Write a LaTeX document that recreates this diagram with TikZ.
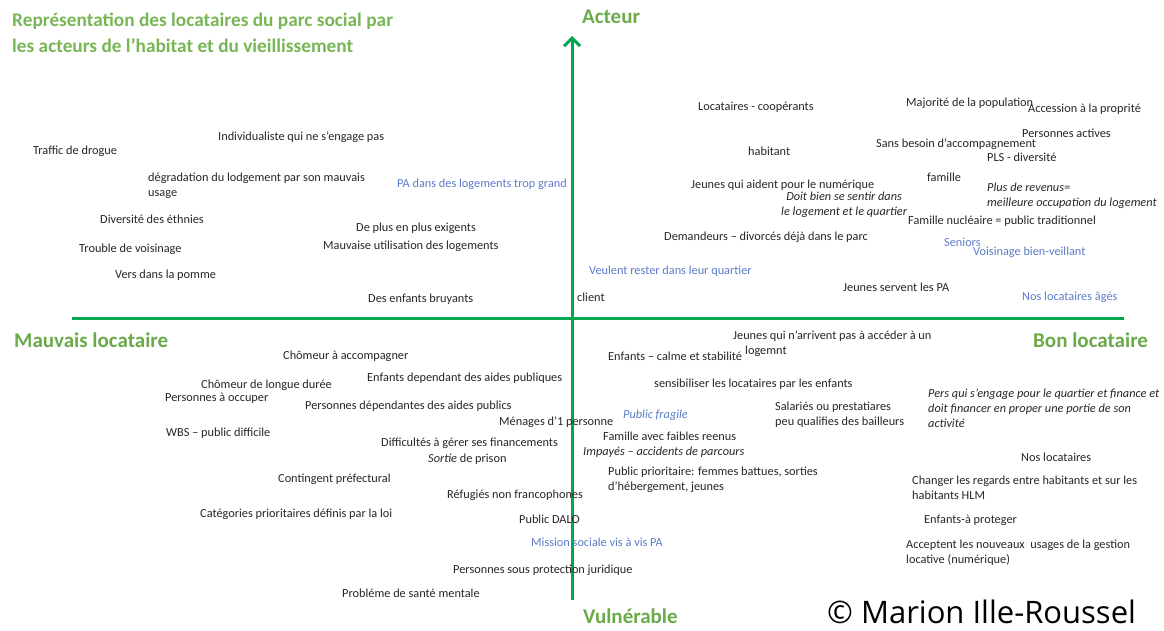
\documentclass[tikz,border=0pt]{standalone}
\usepackage{fontspec}
\setmainfont{Carlito}
\newfontfamily\copyfont{Open Sans}
\usetikzlibrary{arrows.meta}
\definecolor{ink}{HTML}{262626}
\definecolor{paleblue}{HTML}{5B7BC8}
\definecolor{labelgreen}{HTML}{6AAA4A}
\definecolor{titlegreen}{HTML}{78B655}
\definecolor{axisgreen}{HTML}{00A650}

\begin{document}
\begin{tikzpicture}[x=1pt,y=-1pt,
  t/.style={anchor=west,inner sep=0pt,text=ink,align=left,font=\fontsize{12.3}{15}\selectfont},
  pa/.style={t,text=paleblue},
  ax/.style={anchor=west,inner sep=0pt,text=labelgreen,font=\fontsize{21}{25}\selectfont\bfseries},
  hd/.style={anchor=west,inner sep=0pt,align=left,text=titlegreen,font=\fontsize{19.3}{26}\selectfont\bfseries},
  axis/.style={draw=axisgreen,line width=3pt}
]
\useasboundingbox (0,0) rectangle (1164,630);
% axes
\coordinate (top) at (572,36);
\coordinate (bot) at (572,600);
\coordinate (lft) at (72,318);
\coordinate (rgt) at (1124,318);
\draw[axis] (lft) -- (rgt);
\draw[axis,-{Straight Barb[length=8pt,width=16pt]}] (bot) -- (top);
% titles and axis labels
\node[hd] (title) at (12,33) {Représentation des locataires du parc social par\\les acteurs de l’habitat et du vieillissement};
\node[ax] (acteur) at (582,17) {Acteur};
\node[ax] (mauvais) at (14,340) {Mauvais locataire};
\node[ax] (bon) at (1033,340) {Bon locataire};
\node[ax] (vuln) at (583,616) {Vulnérable};
\node[anchor=west,inner sep=0pt,text=black,font=\copyfont\fontsize{31}{35}\selectfont] (copy) at (827,612) {© Marion Ille-Roussel};
% mauvais locataire / acteur
\node[t] (individ) at (218,137) {Individualiste qui ne s’engage pas};
\node[t] (drogue) at (33,151) {Traffic de drogue};
\node[t] (degrad) at (148,186) {dégradation du lodgement par son mauvais\\usage};
\node[pa] (grand) at (397,184) {PA dans des logements trop grand};
\node[t] (ethnies) at (100,219) {Diversité des éthnies};
\node[t] (exigents) at (356,228) {De plus en plus exigents};
\node[t] (voisin) at (79,249) {Trouble de voisinage};
\node[t] (utilis) at (323,246) {Mauvaise utilisation des logements};
\node[t] (pomme) at (115,275) {Vers dans la pomme};
\node[t] (bruyants) at (368,299) {Des enfants bruyants};
% bon locataire / acteur
\node[t] (client) at (577,297) {client};
\node[pa] (rester) at (589,271) {Veulent rester dans leur quartier};
\node[t] (divorces) at (664,237) {Demandeurs – divorcés déjà dans le parc};
\node[t] (numer) at (691,185) {Jeunes qui aident pour le numérique};
\node[t,align=center,font=\fontsize{12.3}{15}\selectfont\itshape] (sentir) at (781,205) {Doit bien se sentir dans\\le logement et le quartier};
\node[t] (coop) at (698,107) {Locataires - coopérants};
\node[t] (habitant) at (748,151) {habitant};
\node[t] (majorite) at (906,103) {Majorité de la population};
\node[t] (propr) at (1028,109) {Accession à la proprité};
\node[t] (actives) at (1022,133) {Personnes actives};
\node[t] (besoin) at (876,144) {Sans besoin d’accompagnement};
\node[t] (pls) at (987,157) {PLS - diversité};
\node[t] (famille) at (927,177) {famille};
\node[t,font=\fontsize{12.3}{15}\selectfont\itshape] (revenus) at (987,196) {Plus de revenus=\\meilleure occupation du logement};
\node[t] (nucleaire) at (908,221) {Famille nucléaire = public traditionnel};
\node[pa] (seniors) at (944,242) {Seniors};
\node[pa] (veillant) at (973,252) {Voisinage bien-veillant};
\node[t] (servent) at (843,287) {Jeunes servent les PA};
\node[pa] (ages) at (1022,297) {Nos locataires âgés};
% mauvais locataire / vulnerable
\node[t] (accomp) at (283,356) {Chômeur à accompagner};
\node[t] (longue) at (201,385) {Chômeur de longue durée};
\node[t] (occuper) at (165,398) {Personnes à occuper};
\node[t] (aidesenf) at (367,378) {Enfants dependant des aides publiques};
\node[t] (aidespers) at (305,406) {Personnes dépendantes des aides publics};
\node[t] (wbs) at (166,433) {WBS – public difficile};
\node[t] (menages) at (499,422) {Ménages d’1 personne};
\node[t] (financ) at (381,443) {Difficultés à gérer ses financements};
\node[t] (prison) at (428,459) {\textit{Sortie} de prison};
\node[t] (contingent) at (278,479) {Contingent préfectural};
\node[t] (refugies) at (447,495) {Réfugiés non francophones};
\node[t] (categ) at (200,514) {Catégories prioritaires définis par la loi};
\node[t] (dalo) at (519,519) {Public DALO};
\node[pa] (mission) at (531,542) {Mission sociale vis à vis PA};
\node[t] (juridique) at (453,570) {Personnes sous protection juridique};
\node[t] (mentale) at (342,593) {Probléme de santé mentale};
% bon locataire / vulnerable
\node[t] (acceder) at (733,344) {Jeunes qui n’arrivent pas à accéder à un\\\hspace*{12pt}logemnt};
\node[t] (calme) at (608,356) {Enfants – calme et stabilité};
\node[t] (sensib) at (654,384) {sensibiliser les locataires par les enfants};
\node[pa,font=\fontsize{12.3}{15}\selectfont\itshape] (fragile) at (623,415) {Public fragile};
\node[t] (salaries) at (775,415) {Salariés ou prestatiares\\peu qualifies des bailleurs};
\node[t,font=\fontsize{12.3}{15}\selectfont\itshape] (engage) at (928,408) {Pers qui s’engage pour le quartier et finance et\\doit financer en proper une portie de son\\activité};
\node[t] (reenus) at (603,436) {Famille avec faibles reenus};
\node[t,font=\fontsize{12.3}{15}\selectfont\itshape] (impayes) at (583,452) {Impayés – accidents de parcours};
\node[t] (prioritaire) at (608,480) {Public prioritaire: femmes battues, sorties\\d’hébergement, jeunes};
\node[t] (noslocs) at (1021,457) {Nos locataires};
\node[t] (regards) at (912,488) {Changer les regards entre habitants et sur les\\habitants HLM};
\node[t] (proteger) at (924,520) {Enfants-à proteger};
\node[t] (usages) at (906,553) {Acceptent les nouveaux\ \ usages de la gestion\\locative (numérique)};
\end{tikzpicture}
\end{document}
